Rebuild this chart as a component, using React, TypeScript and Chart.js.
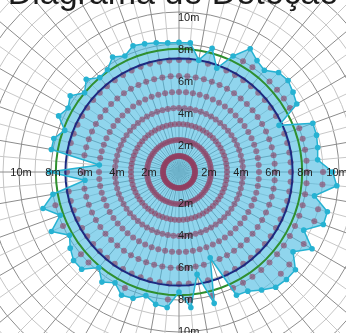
import React, { useEffect, useRef } from 'react';
import { Chart, registerables } from 'chart.js';

Chart.register(...registerables);

const chartTitle = 'Diagrama de Deteção';

// spoke directions (degrees, clockwise from top)
const spokeAngles = [
  0, 5, 10, 15, 20, 25, 30, 35, 40, 45, 50, 55, 60, 65, 70, 75, 80, 85,
  90, 95, 100, 105, 110, 115, 120, 125, 130, 135, 140, 145, 150, 155, 160, 165, 170, 175,
  180, 185, 190, 195, 200, 205, 210, 215, 220, 225, 230, 235, 240, 245, 250, 255, 260, 265,
  270, 275, 280, 285, 290, 295, 300, 305, 310, 315, 320, 325, 330, 335, 340, 345, 350, 355,
];

// measured detection range per spoke (m)
const detectionRange = [
  8.1, 8.1, 7.1, 8.0, 6.9, 8.0, 8.9, 8.5, 8.3, 8.8, 8.9, 8.7, 8.5, 6.9, 8.9, 8.9, 8.8, 8.7,
  9.6, 9.9, 8.6, 9.6, 9.6, 8.6, 9.6, 8.7, 9.5, 9.5, 9.4, 9.0, 8.6, 8.5, 5.7, 8.5, 6.5, 8.5,
  7.5, 8.5, 8.4, 8.0, 8.4, 8.5, 8.0, 8.4, 7.8, 8.6, 8.6, 8.3, 7.9, 8.8, 7.9, 8.8, 8.0, 5.9,
  8.1, 5.0, 8.1, 8.1, 7.6, 8.3, 8.0, 8.3, 7.7, 8.2, 7.7, 7.8, 8.3, 8.0, 8.4, 8.3, 8.2, 8.1,
];

// test-point distances along each spoke (m)
const testDistances = [1, 2, 3, 4, 5, 6, 7, 8, 9];

// reference circles (m)
const innerCircleRadius = 7.1;
const outerCircleRadius = 7.7;

// axis tick labels
const tickValues = [2, 4, 6, 8, 10];
const tickLabels = ['2m', '4m', '6m', '8m', '10m'];

const scaleMax = 16;

const tickLabelPlugin = {
  id: 'fourWayTicks',
  afterDatasetsDraw(chart: any) {
    const scale = chart.scales.r;
    const ctx = chart.ctx;
    const n = chart.data.labels.length;
    ctx.save();
    ctx.font = '11px "Liberation Sans", Arial, sans-serif';
    ctx.fillStyle = '#222222';
    ctx.textBaseline = 'middle';
    tickValues.forEach((v, j) => {
      const text = tickLabels[j];
      ctx.textAlign = 'left';
      let p = scale.getPointPositionForValue(0, v);
      ctx.fillText(text, p.x - 1, p.y + 6);
      p = scale.getPointPositionForValue(n / 2, v);
      ctx.fillText(text, p.x - 1, p.y);
      ctx.textAlign = 'center';
      p = scale.getPointPositionForValue(n / 4, v);
      ctx.fillText(text, p.x - 2, p.y + 1);
      p = scale.getPointPositionForValue((3 * n) / 4, v);
      ctx.fillText(text, p.x + 2, p.y + 1);
    });
    ctx.restore();
  },
};

export default function App() {
  const canvasRef = useRef<HTMLCanvasElement>(null);

  useEffect(() => {
    if (!canvasRef.current) return;
    const labels = spokeAngles.map((a) => `${a}°`);
    const dotSets = testDistances.map((d) => ({
      label: `${d} m`,
      data: detectionRange.map((r) => (r >= d + 0.5 ? d : null)),
      showLine: false,
      fill: false,
      pointRadius: 3,
      pointBorderWidth: 0,
      pointBackgroundColor: 'rgba(145, 60, 95, 0.6)',
      borderColor: 'rgba(0,0,0,0)',
    }));
    const chart = new Chart(canvasRef.current, {
      type: 'radar',
      data: {
        labels,
        datasets: [
          {
            label: 'Alcance',
            data: detectionRange,
            fill: 'start',
            backgroundColor: 'rgba(70, 185, 225, 0.6)',
            borderColor: '#26b2d2',
            borderWidth: 1.5,
            pointRadius: 2.8,
            pointBorderWidth: 0,
            pointBackgroundColor: '#26b2d2',
          },
          {
            label: 'inner',
            data: labels.map(() => innerCircleRadius),
            fill: false,
            borderColor: '#1c2a80',
            borderWidth: 2,
            pointRadius: 0,
          },
          {
            label: 'outer',
            data: labels.map(() => outerCircleRadius),
            fill: false,
            borderColor: '#2f8f2f',
            borderWidth: 2,
            pointRadius: 0,
          },
          ...dotSets,
        ] as any,
      },
      options: {
        animation: false,
        responsive: true,
        maintainAspectRatio: false,
        scales: {
          r: {
            min: 0,
            max: scaleMax,
            ticks: { display: false, stepSize: 1 },
            pointLabels: { display: false },
            grid: {
              circular: true,
              color: (c: any) => (c.tick && c.tick.value % 2 === 0 ? '#8c8c8c' : '#c4c4c4'),
              lineWidth: 1,
            },
            angleLines: {
              color: (c: any) => (c.index % 2 === 0 ? '#8c8c8c' : '#c8c8c8'),
              lineWidth: 1,
            },
          },
        },
        plugins: {
          legend: {
            display: true,
            position: 'left',
            maxWidth: 12,
            labels: { filter: () => false },
          },
          tooltip: { enabled: false },
          filler: { drawTime: 'beforeDatasetsDraw' },
          title: {
            display: true,
            text: chartTitle,
            color: '#1b1b1b',
            font: { size: 34, family: '"Liberation Sans", Arial, sans-serif', weight: 'normal' },
            padding: { top: 58, bottom: -102 },
          },
        },
      } as any,
      plugins: [tickLabelPlugin],
    });
    return () => chart.destroy();
  }, []);

  return (
    <div style={{ position: 'absolute', left: 0, top: 0, width: 346, height: 333, overflow: 'hidden', background: '#ffffff' }}>
      <div style={{ position: 'absolute', left: -89, top: -84, width: 524, height: 512 }}>
        <canvas ref={canvasRef} />
      </div>
    </div>
  );
}
